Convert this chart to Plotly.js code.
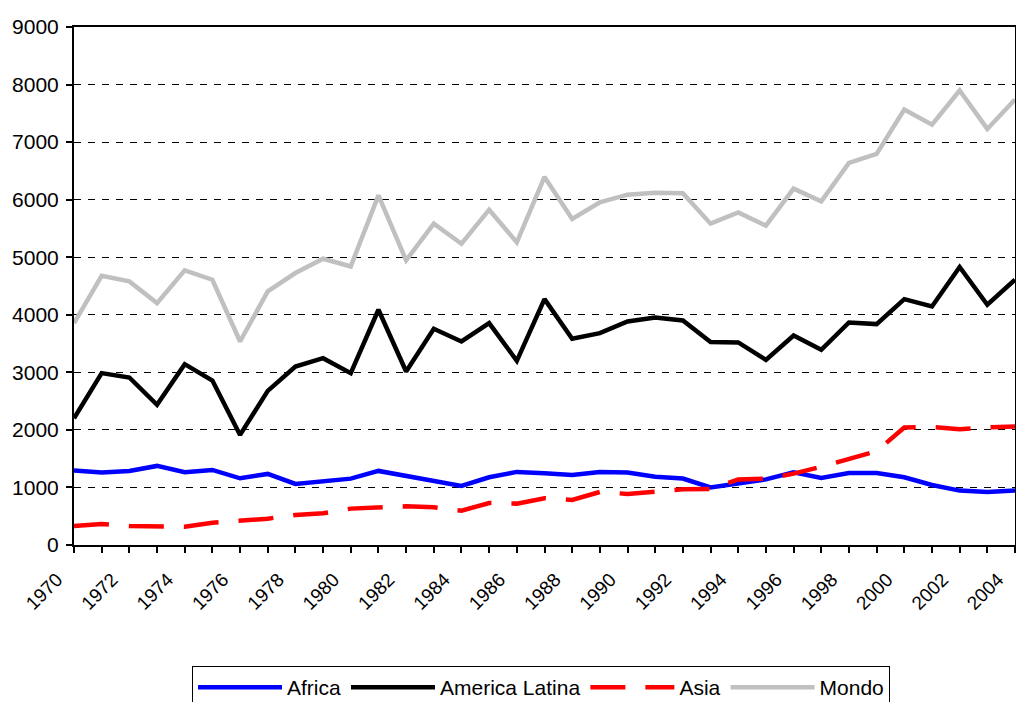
<!DOCTYPE html>
<html>
<head>
<meta charset="utf-8">
<script src="https://cdn.plot.ly/plotly-3.0.1.min.js"></script>
<style>
html,body{margin:0;padding:0;background:#fff;}
#chart{width:1016px;height:702px;}
</style>
</head>
<body>
<div id="chart"></div>
<script>
const years = [1970,1971,1972,1973,1974,1975,1976,1977,1978,1979,1980,1981,1982,1983,1984,1985,1986,1987,1988,1989,1990,1991,1992,1993,1994,1995,1996,1997,1998,1999,2000,2001,2002,2003,2004];
const africa = [1293,1258,1287,1374,1264,1304,1159,1235,1061,1107,1153,1287,1200,1119,1026,1177,1270,1246,1217,1270,1260,1186,1155,1000,1070,1140,1262,1165,1252,1252,1177,1043,945,922,945];
const americaLatina = [2203,2986,2910,2435,3142,2858,1913,2678,3101,3246,2986,4087,3014,3757,3536,3855,3200,4272,3583,3681,3884,3954,3901,3525,3519,3217,3640,3391,3866,3838,4272,4145,4830,4174,4610];
const asia = [330,365,330,319,319,388,417,458,522,551,632,643,673,655,597,730,719,812,783,922,887,925,968,975,1140,1150,1240,1360,1490,1630,2040,2052,2012,2046,2060];
const mondo = [3855,4678,4580,4203,4771,4609,3536,4406,4725,4974,4840,6075,4945,5583,5235,5826,5258,6394,5664,5953,6087,6122,6110,5583,5779,5548,6191,5971,6638,6795,7565,7304,7896,7229,7739];
const seriesNames = ["Africa","America Latina","Asia","Mondo"];

const traces = [
  {x: years, y: africa, name: seriesNames[0], type: 'scatter', mode: 'lines',
   line: {color: '#0000FF', width: 4.5}},
  {x: years, y: americaLatina, name: seriesNames[1], type: 'scatter', mode: 'lines',
   line: {color: '#000000', width: 4.5}},
  {x: years, y: asia, name: seriesNames[2], type: 'scatter', mode: 'lines',
   line: {color: '#FF0000', width: 4.5, dash: '35px,20px'}},
  {x: years, y: mondo, name: seriesNames[3], type: 'scatter', mode: 'lines',
   line: {color: '#C0C0C0', width: 4.5}}
];

const layout = {
  width: 1016, height: 702,
  margin: {l: 74, r: 1, t: 27, b: 157, autoexpand: false},
  paper_bgcolor: '#ffffff', plot_bgcolor: '#ffffff',
  font: {family: 'Liberation Sans, Arial, sans-serif', color: '#000', size: 20},
  showlegend: true,
  legend: {
    orientation: 'h', x: 0.1254, y: -0.2338, xanchor: 'left', yanchor: 'top',
    bordercolor: '#000', borderwidth: 1, bgcolor: '#fff',
    itemwidth: 84,
    font: {family: 'Liberation Sans, Arial, sans-serif', size: 21, color: '#000'},
    traceorder: 'normal'
  },
  xaxis: {
    range: [1970, 2004], tickmode: 'linear', tick0: 1970, dtick: 2,
    tickangle: -45, ticks: 'outside', ticklen: 6, tickwidth: 2, tickcolor: '#000',
    minor: {dtick: 1, tick0: 1970, ticks: 'outside', ticklen: 6, tickwidth: 2, tickcolor: '#000', showgrid: false},
    showline: true, linecolor: '#000', linewidth: 2, mirror: true,
    showgrid: false, zeroline: false, automargin: false,
    ticklabelstandoff: 8, ticklabelshift: -17,
    tickfont: {size: 19}
  },
  yaxis: {
    range: [0, 9000], tickmode: 'linear', tick0: 0, dtick: 1000,
    ticks: 'outside', ticklen: 6, tickwidth: 2, tickcolor: '#000',
    showline: true, linecolor: '#000', linewidth: 2, mirror: true,
    showgrid: true, gridcolor: '#000', gridwidth: 1, griddash: '7px,7px',
    zeroline: false, tickformat: 'd', automargin: false,
    ticklabelstandoff: 3,
    tickfont: {size: 21}
  }
};

Plotly.newPlot('chart', traces, layout, {displayModeBar: false, staticPlot: true});
</script>
</body>
</html>
